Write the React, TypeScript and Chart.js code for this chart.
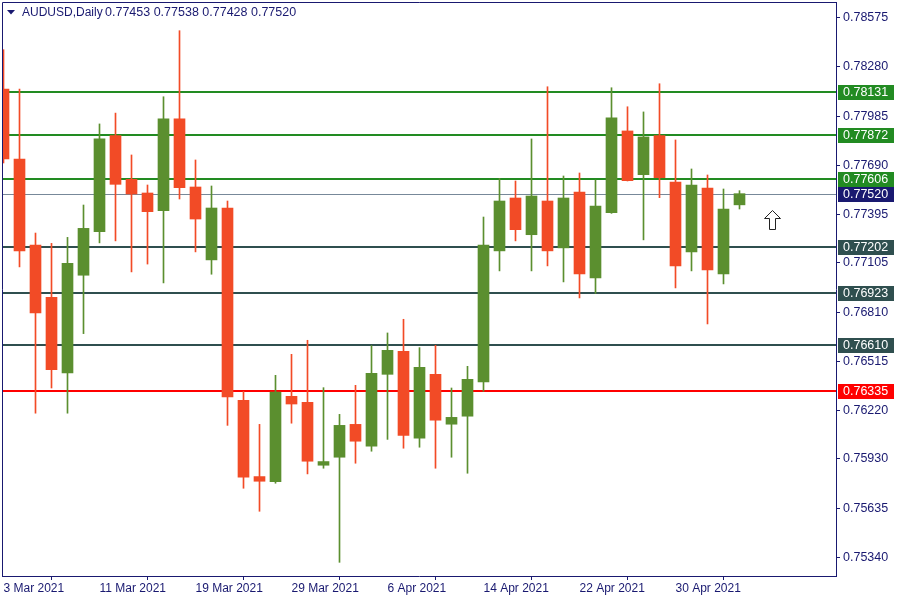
import React, { useEffect, useRef } from "react";
import { Chart, registerables } from "chart.js";

Chart.register(...registerables);

// ---- data ----
const symbol = "AUDUSD,Daily";

const dates = [
  "3 Mar 2021", "4 Mar 2021", "5 Mar 2021", "8 Mar 2021", "9 Mar 2021", "10 Mar 2021", "11 Mar 2021",
  "12 Mar 2021", "15 Mar 2021", "16 Mar 2021", "17 Mar 2021", "18 Mar 2021", "19 Mar 2021",
  "22 Mar 2021", "23 Mar 2021", "24 Mar 2021", "25 Mar 2021", "26 Mar 2021", "29 Mar 2021",
  "30 Mar 2021", "31 Mar 2021", "1 Apr 2021", "2 Apr 2021", "5 Apr 2021", "6 Apr 2021",
  "7 Apr 2021", "8 Apr 2021", "9 Apr 2021", "12 Apr 2021", "13 Apr 2021", "14 Apr 2021",
  "15 Apr 2021", "16 Apr 2021", "19 Apr 2021", "20 Apr 2021", "21 Apr 2021", "22 Apr 2021",
  "23 Apr 2021", "26 Apr 2021", "27 Apr 2021", "28 Apr 2021", "29 Apr 2021", "30 Apr 2021",
  "3 May 2021", "4 May 2021", "5 May 2021", "6 May 2021",
];

const opens = [
  0.78147, 0.77728, 0.77212, 0.76899, 0.76445, 0.77031, 0.77292, 0.77868, 0.77606, 0.77524,
  0.77418, 0.77968, 0.77560, 0.77123, 0.77434, 0.76281, 0.75824, 0.75794, 0.76305, 0.76269,
  0.75892, 0.75940, 0.76137, 0.76006, 0.76437, 0.76575, 0.76054, 0.76437, 0.76138, 0.76186,
  0.76391, 0.77177, 0.77494, 0.77274, 0.77476, 0.77195, 0.77530, 0.77015, 0.77406, 0.77896,
  0.77634, 0.77868, 0.77590, 0.77171, 0.77554, 0.77039, 0.77453,
];
const highs = [
  0.78383, 0.78147, 0.77284, 0.77222, 0.77258, 0.77452, 0.77938, 0.78003, 0.77752, 0.77572,
  0.78101, 0.78497, 0.77722, 0.77566, 0.77476, 0.76335, 0.76137, 0.76431, 0.76557, 0.76641,
  0.76357, 0.76197, 0.76371, 0.76609, 0.76685, 0.76767, 0.76597, 0.76611, 0.76355, 0.76485,
  0.77380, 0.77612, 0.77596, 0.77848, 0.78161, 0.77626, 0.77644, 0.77602, 0.78155, 0.78041,
  0.78010, 0.78179, 0.77842, 0.77668, 0.77632, 0.77548, 0.77538,
];
const lows = [
  0.77704, 0.77081, 0.76204, 0.76355, 0.76204, 0.76681, 0.77225, 0.77237, 0.77051, 0.77098,
  0.76985, 0.77488, 0.77171, 0.77037, 0.76131, 0.75754, 0.75616, 0.75784, 0.76144, 0.75840,
  0.75874, 0.75310, 0.75904, 0.75976, 0.76047, 0.75994, 0.76000, 0.75874, 0.75940, 0.75844,
  0.76335, 0.77057, 0.77237, 0.77057, 0.77087, 0.76991, 0.76895, 0.76922, 0.77402, 0.77596,
  0.77243, 0.77496, 0.76955, 0.77057, 0.76739, 0.76979, 0.77428,
];
const closes = [
  0.77728, 0.77177, 0.76805, 0.76465, 0.77102, 0.77312, 0.77848, 0.77576, 0.77518, 0.77412,
  0.77968, 0.77556, 0.77368, 0.77434, 0.76301, 0.75820, 0.75796, 0.76331, 0.76259, 0.75916,
  0.75914, 0.76131, 0.76036, 0.76443, 0.76581, 0.76071, 0.76479, 0.76162, 0.76179, 0.76407,
  0.77212, 0.77476, 0.77304, 0.77506, 0.77177, 0.77494, 0.77039, 0.77446, 0.77974, 0.77598,
  0.77860, 0.77616, 0.77087, 0.77572, 0.77063, 0.77428, 0.77520,
];

const yTickValues = [
  0.78575, 0.7828, 0.77985, 0.7769, 0.77395, 0.77105, 0.7681, 0.76515, 0.7622, 0.7593, 0.75635, 0.7534,
];
const xTickLabels = [
  "3 Mar 2021", "11 Mar 2021", "19 Mar 2021", "29 Mar 2021", "6 Apr 2021", "14 Apr 2021", "22 Apr 2021", "30 Apr 2021",
];

const levelValues = [0.78131, 0.77872, 0.77606, 0.77202, 0.76923, 0.7661, 0.76335];
const levelKinds = ["resistance", "resistance", "resistance", "support", "support", "support", "key"];

const signalBarIndex = 48;
const signalPrice = 0.7737;

// ---- styles ----
const NAVY = "#191970";
const UP = "#5B8F2F";
const DOWN = "#F24B26";
const KIND_COLORS: Record<string, string> = {
  resistance: "#228B22",
  support: "#2F4F4F",
  key: "#FF0000",
};
const FONT = "'Liberation Sans', Arial, sans-serif";

const lastIdx = closes.length - 1;
const currentPrice = closes[lastIdx];

export default function App() {
  const ref = useRef<HTMLCanvasElement | null>(null);

  useEffect(() => {
    const canvas = ref.current;
    if (!canvas) return;

    const bodies = opens.map((o, i) => ({ x: i, y: [o, closes[i]] }));
    const wicks = lows.map((l, i) => ({ x: i, y: [l, highs[i]] }));
    const colorOf = (i: number) => (closes[i] >= opens[i] ? UP : DOWN);
    const xTickIdx = xTickLabels.map((l) => dates.indexOf(l));

    const overlay = {
      id: "overlay",
      beforeDatasetsDraw(chart: any) {
        const { ctx, chartArea: a, scales } = chart;
        const y = scales.y;
        ctx.save();
        ctx.beginPath();
        ctx.rect(a.left, a.top, a.right - a.left, a.bottom - a.top);
        ctx.clip();
        // current price line
        const cy = Math.round(y.getPixelForValue(currentPrice)) + 0.5;
        ctx.strokeStyle = "#778899";
        ctx.lineWidth = 1;
        ctx.beginPath();
        ctx.moveTo(a.left, cy);
        ctx.lineTo(a.right, cy);
        ctx.stroke();
        levelValues.forEach((v, k) => {
          const py = Math.round(y.getPixelForValue(v));
          ctx.strokeStyle = KIND_COLORS[levelKinds[k]];
          ctx.lineWidth = 2;
          ctx.beginPath();
          ctx.moveTo(a.left, py);
          ctx.lineTo(a.right, py);
          ctx.stroke();
        });
        ctx.restore();
      },
      afterDraw(chart: any) {
        const { ctx, chartArea: a, scales } = chart;
        const x = scales.x;
        const y = scales.y;
        ctx.save();
        // frame (left / top)
        ctx.strokeStyle = NAVY;
        ctx.lineWidth = 1;
        ctx.beginPath();
        ctx.moveTo(a.left + 0.5, a.bottom);
        ctx.lineTo(a.left + 0.5, a.top + 0.5);
        ctx.lineTo(a.right, a.top + 0.5);
        ctx.stroke();

        // level labels on the price axis
        ctx.font = `12.5px ${FONT}`;
        ctx.textBaseline = "middle";
        ctx.textAlign = "left";
        const drawTag = (v: number, bg: string) => {
          const py = Math.round(y.getPixelForValue(v));
          ctx.fillStyle = bg;
          ctx.fillRect(a.right + 2, py - 7, 56, 15);
          ctx.fillStyle = "#FFFFFF";
          ctx.fillText(v.toFixed(5), a.right + 7, py + 0.5);
        };
        levelValues.forEach((v, k) => drawTag(v, KIND_COLORS[levelKinds[k]]));
        drawTag(currentPrice, NAVY);

        // signal arrow
        const ax = Math.round(x.getPixelForValue(signalBarIndex)) + 0.5;
        const ay = Math.round(y.getPixelForValue(signalPrice)) + 0.5;
        ctx.beginPath();
        ctx.moveTo(ax, ay - 9);
        ctx.lineTo(ax + 8, ay - 1);
        ctx.lineTo(ax + 3, ay - 1);
        ctx.lineTo(ax + 3, ay + 10);
        ctx.lineTo(ax - 3, ay + 10);
        ctx.lineTo(ax - 3, ay - 1);
        ctx.lineTo(ax - 8, ay - 1);
        ctx.closePath();
        ctx.fillStyle = "#FFFFFF";
        ctx.fill();
        ctx.strokeStyle = "#222222";
        ctx.lineWidth = 1;
        ctx.stroke();

        // title
        ctx.fillStyle = NAVY;
        ctx.beginPath();
        ctx.moveTo(7, 10);
        ctx.lineTo(15, 10);
        ctx.lineTo(11, 14.5);
        ctx.closePath();
        ctx.fill();
        ctx.font = `12px ${FONT}`;
        ctx.textBaseline = "middle";
        ctx.fillText(symbol, 22, 12.5);
        const ohlc = [opens[lastIdx], highs[lastIdx], lows[lastIdx], closes[lastIdx]]
          .map((v) => v.toFixed(5))
          .join(" ");
        ctx.font = `12.5px ${FONT}`;
        ctx.fillText(ohlc, 105, 12.5);
        ctx.restore();
      },
    };

    const chart = new Chart(canvas, {
      type: "bar",
      data: {
        datasets: [
          {
            label: "body",
            data: bodies as any,
            backgroundColor: (c: any) => colorOf(c.dataIndex),
            barThickness: 11,
            grouped: false,
            borderWidth: 0,
            clip: 0,
            order: 0,
          } as any,
          {
            label: "wick",
            data: wicks as any,
            backgroundColor: (c: any) => colorOf(c.dataIndex),
            barThickness: 1,
            grouped: false,
            borderWidth: 0,
            clip: 0,
            order: 1,
          } as any,
        ],
      },
      options: {
        responsive: false,
        animation: false,
        devicePixelRatio: 1,
        layout: { padding: { left: 2, top: 2, right: 0, bottom: 0 } },
        plugins: { legend: { display: false }, tooltip: { enabled: false }, title: { display: false } },
        scales: {
          x: {
            type: "linear",
            position: "bottom",
            offset: false,
            min: -0.09375,
            max: 52.03125,
            afterBuildTicks: (s: any) => {
              s.ticks = xTickIdx.map((v) => ({ value: v }));
            },
            afterFit: (s: any) => {
              s.height = 24;
              s.paddingLeft = 0;
              s.paddingRight = 0;
            },
            ticks: {
              autoSkip: false,
              maxRotation: 0,
              minRotation: 0,
              align: "start",
              padding: 1,
              color: NAVY,
              font: { family: FONT, size: 12 },
              callback: (v: any) => dates[Number(v)] ?? "",
            },
            grid: { drawOnChartArea: false, tickLength: 4, color: NAVY },
            border: { color: NAVY, width: 1 },
          },
          y: {
            type: "linear",
            position: "right",
            min: 0.75228,
            max: 0.78669,
            afterBuildTicks: (s: any) => {
              s.ticks = yTickValues.map((v) => ({ value: v }));
            },
            afterFit: (s: any) => {
              s.width = 64;
              s.paddingTop = 0;
              s.paddingBottom = 0;
            },
            ticks: {
              autoSkip: false,
              padding: 3,
              color: NAVY,
              font: { family: FONT, size: 12.5 },
              callback: (v: any) => Number(v).toFixed(5),
            },
            grid: { drawOnChartArea: false, tickLength: 4, color: NAVY },
            border: { color: NAVY, width: 1 },
          },
        },
      } as any,
      plugins: [overlay],
    });

    return () => chart.destroy();
  }, []);

  return (
    <div style={{ position: "absolute", left: 0, top: 0, width: 900, height: 600, background: "#FFFFFF" }}>
      <canvas ref={ref} width={900} height={600} style={{ display: "block" }} />
    </div>
  );
}
